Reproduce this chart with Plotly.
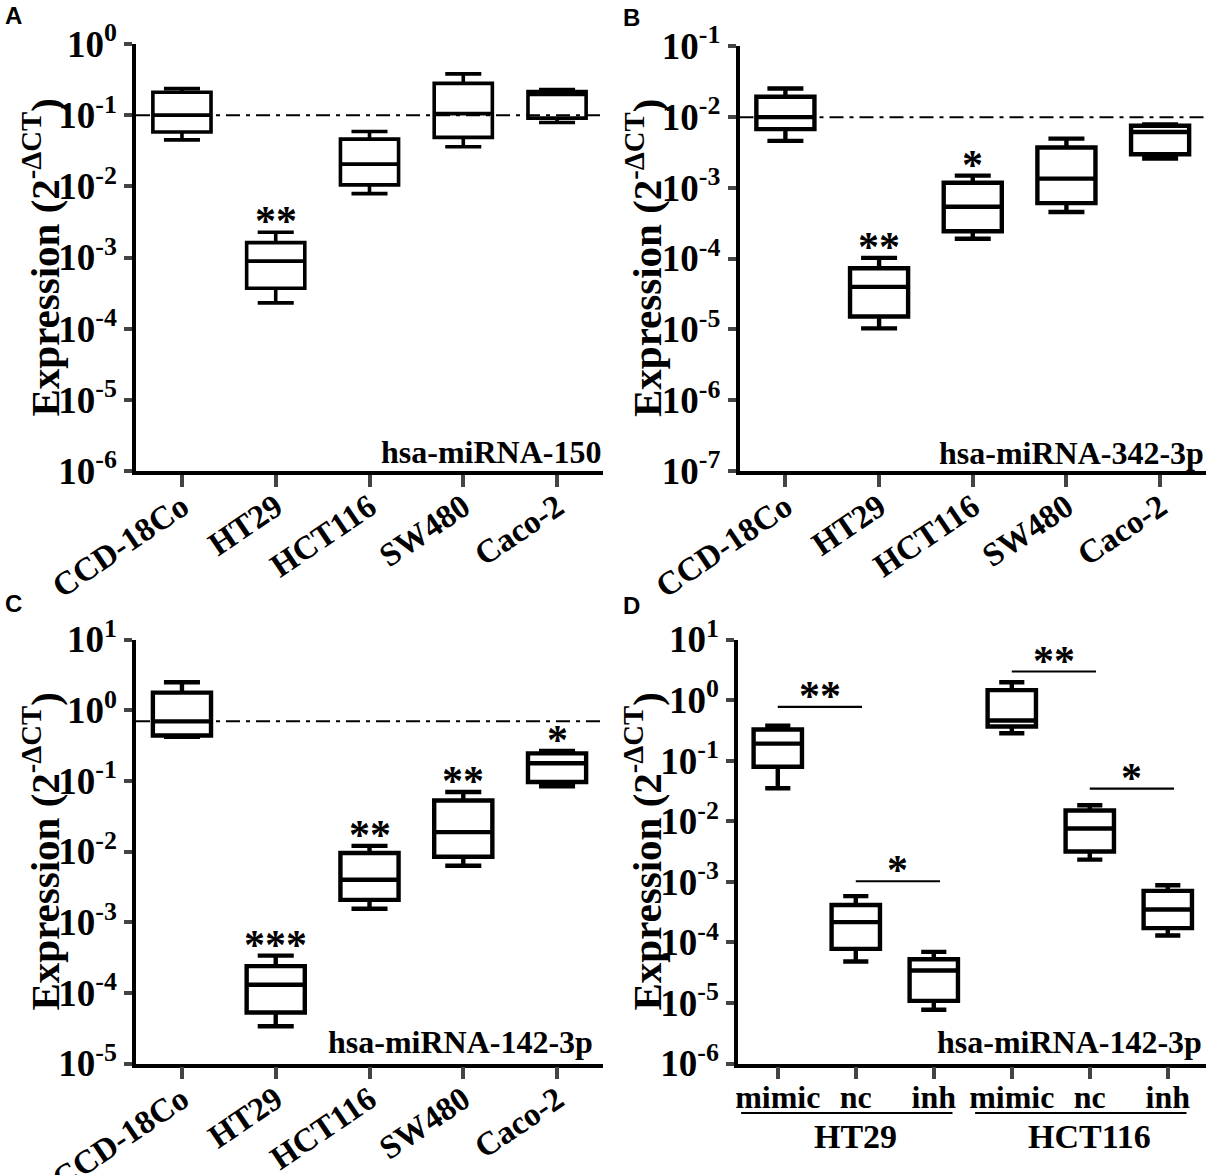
import numpy as np
import plotly.graph_objects as go

W, H = 1206, 1175

# ---------------- data ----------------
cells = ["CCD-18Co", "HT29", "HCT116", "SW480", "Caco-2"]

# Panel A : hsa-miRNA-150
a_max = [0.237, 0.00226, 0.059, 0.38, 0.229]
a_q3 = [0.21, 0.00162, 0.046, 0.28, 0.215]
a_med = [0.10, 0.00089, 0.0205, 0.105, 0.196]
a_q1 = [0.058, 0.00037, 0.0105, 0.0487, 0.091]
a_min = [0.045, 0.00023, 0.0079, 0.036, 0.0787]
a_stars = ["", "**", "", "", ""]

# Panel B : hsa-miRNA-342-3p
b_max = [0.0251, 1.02e-4, 1.48e-3, 4.93e-3, 7.78e-3]
b_q3 = [0.0192, 7.28e-5, 1.175e-3, 3.69e-3, 7.5e-3]
b_med = [0.0099, 3.98e-5, 5.37e-4, 1.34e-3, 6.12e-3]
b_q1 = [0.0067, 1.52e-5, 2.43e-4, 6.05e-4, 2.97e-3]
b_min = [0.00458, 1.03e-5, 1.9e-4, 4.54e-4, 2.57e-3]
b_stars = ["", "**", "*", "", ""]

# Panel C : hsa-miRNA-142-3p
c_max = [2.48, 3.36e-4, 0.012, 0.0695, 0.264]
c_q3 = [1.77, 2.39e-4, 9.5e-3, 0.0526, 0.245]
c_med = [0.695, 1.3e-4, 3.98e-3, 0.0188, 0.177]
c_q1 = [0.438, 5.26e-5, 2.07e-3, 8.44e-3, 0.0964]
c_min = [0.42, 3.36e-5, 1.55e-3, 6.3e-3, 0.0834]
c_stars = ["", "***", "**", "**", "*"]

# Panel D : hsa-miRNA-142-3p, transfection
d_groups = ["mimic", "nc", "inh", "mimic", "nc", "inh"]
d_lines = ["HT29", "HCT116"]
d_max = [0.377, 5.8e-4, 6.97e-5, 1.97, 0.0183, 8.75e-4]
d_q3 = [0.327, 4.14e-4, 5.26e-5, 1.46, 0.015, 7.08e-4]
d_med = [0.191, 2.16e-4, 3.44e-5, 0.46, 7.6e-3, 3.49e-4]
d_q1 = [0.0795, 7.8e-5, 1.08e-5, 0.366, 3.17e-3, 1.72e-4]
d_min = [0.035, 4.83e-5, 7.7e-6, 0.284, 2.32e-3, 1.3e-4]
d_sig_left = [0, 1, 3, 4]
d_sig_right = [1, 2, 4, 5]
d_sig_level = [0.774, 1.02e-3, 2.96, 0.0345]
d_sig_text = ["**", "*", "**", "*"]

panel_labels = ["A", "B", "C", "D"]
mirna_labels = ["hsa-miRNA-150", "hsa-miRNA-342-3p", "hsa-miRNA-142-3p", "hsa-miRNA-142-3p"]
y_exp_ranges = [(-6, 0), (-7, -1), (-5, 1), (-6, 1)]

# ---------------- layout geometry (pixels) ----------------
SERIF = "Liberation Serif"
SANS = "Liberation Sans"


def px_x(p):
    return p / W


def px_y(p):
    return 1 - p / H


domains = {
    1: dict(x=[px_x(136), px_x(603)], y=[px_y(471), px_y(44)]),
    2: dict(x=[px_x(739.5), 1.0], y=[px_y(471), px_y(46)]),
    3: dict(x=[px_x(136), px_x(603)], y=[px_y(1063.5), px_y(639.5)]),
    4: dict(x=[px_x(738), 1.0], y=[px_y(1063.5), px_y(639.5)]),
}

fig = go.Figure()

panels = [
    (a_min, a_q1, a_med, a_q3, a_max, a_stars),
    (b_min, b_q1, b_med, b_q3, b_max, b_stars),
    (c_min, c_q1, c_med, c_q3, c_max, c_stars),
    (d_min, d_q1, d_med, d_q3, d_max, None),
]

annotations = []
shapes = []

for k, (mn, q1, md, q3, mx, stars) in enumerate(panels, start=1):
    xa = "x" if k == 1 else f"x{k}"
    ya = "y" if k == 1 else f"y{k}"
    n = len(md)
    pos = list(range(n))
    is_d = k == 4
    if is_d:
        xrange = [-0.51, 5.49]
    else:
        xrange = [-0.49, 4.49]

    fig.add_trace(go.Box(
        x=pos, q1=q1, median=md, q3=q3, lowerfence=mn, upperfence=mx,
        width=0.62,
        whiskerwidth=0.52 if is_d else 0.62,
        line=dict(color="black", width=4.4 if k != 1 else 3.6),
        fillcolor="white", boxpoints=False, showlegend=False,
        xaxis=xa, yaxis=ya, hoverinfo="skip",
    ))

    # reference dash-dot line at the control (CCD-18Co) median
    if not is_d:
        fig.add_trace(go.Scatter(
            x=xrange, y=[md[0], md[0]], mode="lines",
            line=dict(color="black", width=2, dash="14px,6px,4px,6px"),
            xaxis=xa, yaxis=ya, showlegend=False, hoverinfo="skip",
        ))

    lo, hi = y_exp_ranges[k - 1]
    tickvals = [10.0 ** e for e in range(lo, hi + 1)]
    ticktext = [f"10<sup>{e}</sup>" for e in range(lo, hi + 1)]
    yaxis = dict(
        domain=domains[k]["y"], anchor=xa, type="log", range=[lo, hi],
        tickvals=tickvals, ticktext=ticktext, ticks="outside", ticklen=8,
        tickwidth=3.5, showline=True, linewidth=3.5, linecolor="black",
        showgrid=False, zeroline=False, automargin=False,
        tickfont=dict(family=SERIF, size=37, color="black", weight="bold"),
    )
    if is_d:
        tickt = d_groups
        tickangle = 0
        tfs = 32
        standoff = -10
    else:
        tickt = cells
        tickangle = -34
        tfs = 33
        standoff = -12
    xaxis = dict(
        domain=domains[k]["x"], anchor=ya, range=xrange, tickvals=pos,
        ticktext=tickt, tickangle=tickangle, ticks="outside", ticklen=12,
        tickwidth=3.5, showline=True, linewidth=3.5, linecolor="black",
        showgrid=False, zeroline=False, automargin=False,
        ticklabelstandoff=standoff,
        tickfont=dict(family=SERIF, size=tfs, color="black", weight="bold"),
    )
    fig.layout[f"xaxis{'' if k == 1 else k}"] = xaxis
    fig.layout[f"yaxis{'' if k == 1 else k}"] = yaxis

    if not is_d:
        for i, s in enumerate(stars):
            if s:
                annotations.append(dict(
                    xref=xa, yref=ya, x=i, y=np.log10(mx[i]), text=s,
                    showarrow=False, yanchor="bottom", yshift=-14,
                    font=dict(family=SERIF, size=42, color="black", weight="bold"),
                ))

    # miRNA label
    dom = domains[k]
    annotations.append(dict(
        xref=f"{xa} domain", yref=f"{ya} domain",
        x={1: 1.0, 2: 1.0, 3: 0.983, 4: 0.995}[k],
        y={1: 0.045, 2: 0.042, 3: 0.05, 4: 0.05}[k],
        xanchor="right", yanchor="middle", text=mirna_labels[k - 1], showarrow=False,
        font=dict(family=SERIF, size=32, color="black", weight="bold"),
    ))

    # y-axis title
    annotations.append(dict(
        xref="paper", yref="paper",
        x=dom["x"][0] - px_x(95), y=(dom["y"][0] + dom["y"][1]) / 2,
        text="Expression (2<sup>-ΔCT</sup>)", textangle=-90, showarrow=False,
        xanchor="center", yanchor="middle",
        font=dict(family=SERIF, size=41, color="black", weight="bold"),
    ))

    # panel letter
    annotations.append(dict(
        xref="paper", yref="paper",
        x={1: px_x(13), 2: px_x(632), 3: px_x(13), 4: px_x(632)}[k],
        y={1: px_y(16), 2: px_y(17), 3: px_y(603), 4: px_y(605)}[k],
        text=panel_labels[k - 1], showarrow=False, xanchor="center", yanchor="middle",
        font=dict(family=SANS, size=24, color="black", weight="bold"),
    ))

# significance bars in panel D
for l, r, lev, txt in zip(d_sig_left, d_sig_right, d_sig_level, d_sig_text):
    x0, x1 = l + 0.0, r + 0.08
    fig.add_trace(go.Scatter(
        x=[x0, x1], y=[lev, lev], mode="lines", line=dict(color="black", width=2.2),
        xaxis="x4", yaxis="y4", showlegend=False, hoverinfo="skip",
    ))
    annotations.append(dict(
        xref="x4", yref="y4", x=(x0 + x1) / 2, y=np.log10(lev), text=txt,
        showarrow=False, yanchor="bottom", yshift=-14,
        font=dict(family=SERIF, size=42, color="black", weight="bold"),
    ))

# cell-line group labels under panel D
for g, name in enumerate(d_lines):
    centre = 3 * g + 1
    shapes.append(dict(
        type="line", xref="x4", x0=centre - 1.47, x1=centre + 1.24,
        yref="paper", y0=px_y(1113), y1=px_y(1113),
        line=dict(color="black", width=2),
    ))
    annotations.append(dict(
        xref="x4", yref="paper", x=centre, y=px_y(1136), text=name,
        showarrow=False, xanchor="center", yanchor="middle",
        font=dict(family=SERIF, size=34, color="black", weight="bold"),
    ))

fig.update_layout(
    width=W, height=H, margin=dict(l=0, r=0, t=0, b=0, autoexpand=False),
    paper_bgcolor="white", plot_bgcolor="white",
    showlegend=False, annotations=annotations, shapes=shapes,
)

fig.write_html("out.html", config={"displayModeBar": False},
               post_script="document.body.style.margin='0';")
